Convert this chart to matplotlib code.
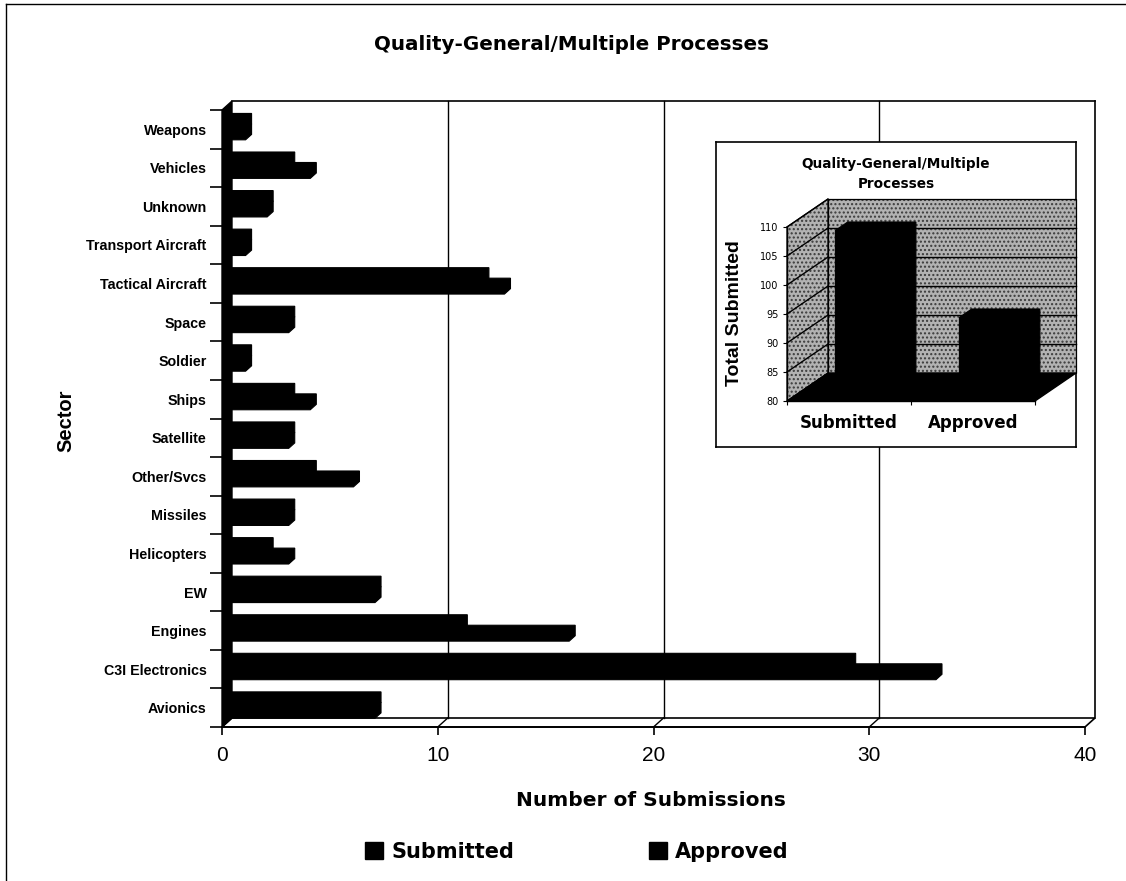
import numpy as np
import matplotlib
matplotlib.use("Agg")
import matplotlib.pyplot as plt
from matplotlib.patches import Polygon, Patch
from matplotlib.lines import Line2D
from matplotlib.transforms import IdentityTransform

# ---- data -------------------------------------------------------------
sectors = ["Avionics", "C3I Electronics", "Engines", "EW", "Helicopters",
           "Missiles", "Other/Svcs", "Satellite", "Ships", "Soldier", "Space",
           "Tactical Aircraft", "Transport Aircraft", "Unknown", "Vehicles",
           "Weapons"]
submitted = [7, 33, 16, 7, 3, 3, 6, 3, 4, 1, 3, 13, 1, 2, 4, 1]
approved = [7, 29, 11, 7, 2, 3, 4, 3, 3, 1, 3, 12, 1, 2, 3, 1]
count_ticks = [0, 10, 20, 30, 40]

total_labels = ["Submitted", "Approved"]
total_values = [sum(submitted), sum(approved)]
total_ticks = [80, 85, 90, 95, 100, 105, 110]

W, H = 1126, 881
fig = plt.figure(figsize=(W / 100, H / 100), dpi=100)
fig.patch.set_facecolor("white")

HEAVY = "DejaVu Sans"
ARIAL = "Liberation Sans"


# ---- helpers for the pseudo-3D look (pixel offsets on top of data coords)
def px(ax, x, y, off=(0.0, 0.0)):
    X, Y = ax.transData.transform((x, y))
    return (X + off[0], Y + off[1])


def poly(ax, pts, **kw):
    p = Polygon(pts, closed=True, transform=IdentityTransform(),
                clip_on=False, **kw)
    ax.add_artist(p)
    return p


def seg(ax, p0, p1, **kw):
    kw.setdefault("color", "black")
    kw.setdefault("lw", 1.2)
    ln = Line2D([p0[0], p1[0]], [p0[1], p1[1]],
                transform=IdentityTransform(), clip_on=False, **kw)
    ax.add_artist(ln)
    return ln


def box3d(ax, x0, x1, y0, y1, front, back, **kw):
    """Extruded rectangle: front face shifted by `front`, back face by `back`."""
    pts = [px(ax, x0, y0, front), px(ax, x1, y0, front),
           px(ax, x1, y0, back), px(ax, x1, y1, back),
           px(ax, x0, y1, back), px(ax, x0, y1, front)]
    return poly(ax, pts, **kw)


# ---- main horizontal bar chart ---------------------------------------
ax = fig.add_axes([222 / W, 1 - 727 / H, (1085 - 222) / W, (727 - 110) / H])
ax.set_zorder(1)
n = len(sectors)
ymin, ymax = -0.5, n - 0.5
ax.set_xlim(count_ticks[0], count_ticks[-1])
ax.set_ylim(ymin, ymax)
ax.patch.set_visible(False)
for side in ("top", "right", "left"):
    ax.spines[side].set_visible(False)
ax.spines["bottom"].set_linewidth(1.3)

ax.set_xticks(count_ticks)
ax.tick_params(axis="x", direction="out", length=6, width=1.2, pad=8,
               labelsize=15)
for lab in ax.get_xticklabels():
    lab.set_fontfamily(ARIAL)

ax.set_yticks(range(n))
ax.set_yticklabels(sectors, fontfamily=ARIAL, fontweight="bold",
                   fontsize=10.3)
ax.tick_params(axis="y", which="major", length=0, pad=11)
ax.set_yticks(np.arange(ymin, ymax + 0.01, 1.0), minor=True)
ax.tick_params(axis="y", which="minor", direction="out", length=8.6,
               width=1.2)

depth = (10, 9)
xl, xr = count_ticks[0], count_ticks[-1]

# floor
poly(ax, [px(ax, xl, ymin), px(ax, xr, ymin), px(ax, xr, ymin, depth),
          px(ax, xl, ymin, depth)],
     facecolor="white", edgecolor="black", lw=1.2, zorder=1)
# back wall outline
seg(ax, px(ax, xl, ymax, depth), px(ax, xr, ymax, depth), zorder=1.5)
seg(ax, px(ax, xr, ymax, depth), px(ax, xr, ymin, depth), zorder=1.5)
# gridlines on the back wall and floor
for t in count_ticks[1:-1]:
    seg(ax, px(ax, t, ymin), px(ax, t, ymin, depth), lw=1.0, zorder=1.5)
    seg(ax, px(ax, t, ymin, depth), px(ax, t, ymax, depth), lw=1.0,
        zorder=1.5)

# bars: submitted (lower) and approved (upper) in each sector band
bar_h = 0.272
base = 0.18
front, back = (2, 1.8), (8, 7.2)
for i, (s, a) in enumerate(zip(submitted, approved)):
    y0 = i - 0.5 + base
    box3d(ax, 0, a, y0 + bar_h, y0 + 2 * bar_h, front, back,
          facecolor="black", edgecolor="black", lw=0.8, zorder=3)
    box3d(ax, 0, s, y0, y0 + bar_h, front, back,
          facecolor="black", edgecolor="black", lw=0.8, zorder=3)

# side wall
poly(ax, [px(ax, xl, ymin), px(ax, xl, ymin, depth), px(ax, xl, ymax, depth),
          px(ax, xl, ymax)],
     facecolor="black", edgecolor="black", lw=1.0, zorder=4)

# ---- inset: totals as a 3D column chart -------------------------------
frame = fig.add_axes([716 / W, 1 - 447 / H, 360 / W, 305 / H])
frame.set_zorder(2)
frame.set_xticks([])
frame.set_yticks([])
frame.set_facecolor("white")
for sp in frame.spines.values():
    sp.set_linewidth(1.2)

ax2 = fig.add_axes([787 / W, 1 - 401 / H, 248 / W, 174 / H])
ax2.set_zorder(3)
ax2.patch.set_visible(False)
ax2.set_xlim(0, len(total_labels))
ax2.set_ylim(total_ticks[0], total_ticks[-1])
ax2.spines["top"].set_visible(False)
ax2.spines["right"].set_visible(False)
ax2.spines["left"].set_linewidth(1.0)
ax2.spines["bottom"].set_linewidth(1.0)

ax2.set_yticks(total_ticks)
ax2.tick_params(axis="y", direction="out", length=3, width=0.8, pad=3,
                labelsize=7)
ax2.set_xticks([k + 0.5 for k in range(len(total_labels))])
ax2.set_xticklabels(total_labels, fontfamily=HEAVY, fontweight="bold",
                    fontsize=12)
ax2.tick_params(axis="x", which="major", length=0, pad=9)
ax2.set_xticks(range(len(total_labels) + 1), minor=True)
ax2.tick_params(axis="x", which="minor", direction="out", length=3, width=0.8)

d2 = (41, 28)
lo, hi = total_ticks[0], total_ticks[-1]
xr2 = len(total_labels)
# stippled grey walls: speckle fill, then a black outline on top
speckle = dict(facecolor="#b2b2b2", edgecolor="#3a3a3a", hatch="....", lw=0)
outline = dict(facecolor="none", edgecolor="black", lw=0.9)
side_wall = [px(ax2, 0, lo), px(ax2, 0, hi), px(ax2, 0, hi, d2),
             px(ax2, 0, lo, d2)]
back_wall = [px(ax2, 0, lo, d2), px(ax2, xr2, lo, d2), px(ax2, xr2, hi, d2),
             px(ax2, 0, hi, d2)]
for wall in (side_wall, back_wall):
    poly(ax2, wall, zorder=1, **speckle)
    poly(ax2, wall, zorder=1.2, **outline)
for v in total_ticks[1:-1]:
    seg(ax2, px(ax2, 0, v), px(ax2, 0, v, d2), lw=1.0, zorder=1.5)
    seg(ax2, px(ax2, 0, v, d2), px(ax2, xr2, v, d2), lw=1.0, zorder=1.5)
seg(ax2, px(ax2, 0, hi), px(ax2, 0, hi, d2), lw=1.0, zorder=1.5)
# floor
poly(ax2, [px(ax2, 0, lo), px(ax2, xr2, lo), px(ax2, xr2, lo, d2),
           px(ax2, 0, lo, d2)], facecolor="black", edgecolor="black",
     lw=1.0, zorder=2)
# columns
col_w = 0.55
f_front = (0.5 * d2[0], 0.5 * d2[1])
f_back = (0.8 * d2[0], 0.8 * d2[1])
for k, v in enumerate(total_values):
    c = k + 0.5
    box3d(ax2, c - col_w / 2, c + col_w / 2, lo, v, f_front, f_back,
          facecolor="black", edgecolor="black", lw=0.8, zorder=3)

fig.text(896 / W, 1 - 174 / H, "Quality-General/Multiple\nProcesses",
         ha="center", va="center", fontsize=9.8, fontweight="bold",
         fontfamily=HEAVY, linespacing=1.55, zorder=5)
fig.text(735 / W, 1 - 313 / H, "Total Submitted", rotation=90,
         ha="center", va="center", fontsize=14, fontweight="bold",
         fontfamily=ARIAL, zorder=5)

# ---- titles, labels, legend -------------------------------------------
fig.text(571 / W, 1 - 44 / H, "Quality-General/Multiple Processes",
         ha="center", va="center", fontsize=14.3, fontweight="bold",
         fontfamily=HEAVY)
fig.text(651 / W, 1 - 800 / H, "Number of Submissions", ha="center",
         va="center", fontsize=14.5, fontweight="bold", fontfamily=HEAVY)
fig.text(66 / W, 1 - 421 / H, "Sector", rotation=90, ha="center",
         va="center", fontsize=14.5, fontweight="bold", fontfamily=ARIAL)

handles = [Patch(facecolor="black", edgecolor="black", label=lab)
           for lab in ["Submitted", "Approved"]]
fig.legend(handles=handles, loc="center", bbox_to_anchor=(577 / W, 1 - 852 / H),
           ncol=2, frameon=False, handlelength=0.85, handleheight=0.85,
           handletextpad=0.4, columnspacing=6.5,
           prop=dict(family=HEAVY, weight="bold", size=15))

# outer chart-area border (top and left edges)
fig.add_artist(Line2D([6 / W, 6 / W], [0, 1 - 4 / H], transform=fig.transFigure,
                      color="black", lw=1.0))
fig.add_artist(Line2D([6 / W, 1], [1 - 4 / H, 1 - 4 / H],
                      transform=fig.transFigure, color="black", lw=1.0))

fig.savefig("out.png", dpi=100, facecolor="white")
